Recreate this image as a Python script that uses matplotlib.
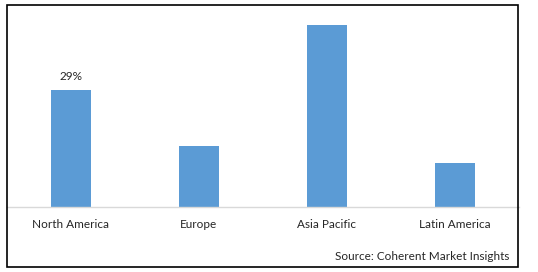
import matplotlib
matplotlib.use("Agg")
import matplotlib.pyplot as plt
from matplotlib.patches import Rectangle

categories = ["North America", "Europe", "Asia Pacific", "Latin America"]
shares = [29, 15, 45, 11]
label_text = ["29%", "", "", ""]
source_text = "Source: Coherent Market Insights"

plt.rcParams['font.family'] = ['Lato', 'DejaVu Sans']

fig = plt.figure(figsize=(5.38, 2.72), dpi=100)
fig.patch.set_facecolor("white")

ax = fig.add_axes([6.5/538, 1 - 207/272, (518.7 - 6.5)/538, (207 - 5)/272])
x = range(len(categories))
bars = ax.bar(x, shares, width=0.3125, color="#5B9BD5")
ax.set_xlim(-0.5, len(categories) - 0.5)
ax.set_ylim(0, 50)
for s in ["top", "left", "right"]:
    ax.spines[s].set_visible(False)
ax.spines["bottom"].set_color("#d9d9d9")
ax.spines["bottom"].set_linewidth(1.0)
ax.set_yticks([])
ax.set_xticks(list(x))
ax.set_xticklabels(categories, fontsize=8.5, color="#262626")
ax.tick_params(axis="x", length=0, pad=9)
ax.set_facecolor("none")

for b, t in zip(bars, label_text):
    if t:
        ax.annotate(t, (b.get_x() + b.get_width()/2, b.get_height()),
                    xytext=(0, 5.5), textcoords="offset points",
                    ha="center", va="bottom", fontsize=8.5, color="#262626")

fig.text(509/538, 1 - 256/272, source_text, ha="right", va="center",
         fontsize=8.5, color="#262626")

fig.patches.append(Rectangle((7/538, 1 - 267/272), (518 - 7)/538, (267 - 5)/272,
                             transform=fig.transFigure, fill=False,
                             edgecolor="black", linewidth=1.2))

fig.savefig("out.png", dpi=100)
